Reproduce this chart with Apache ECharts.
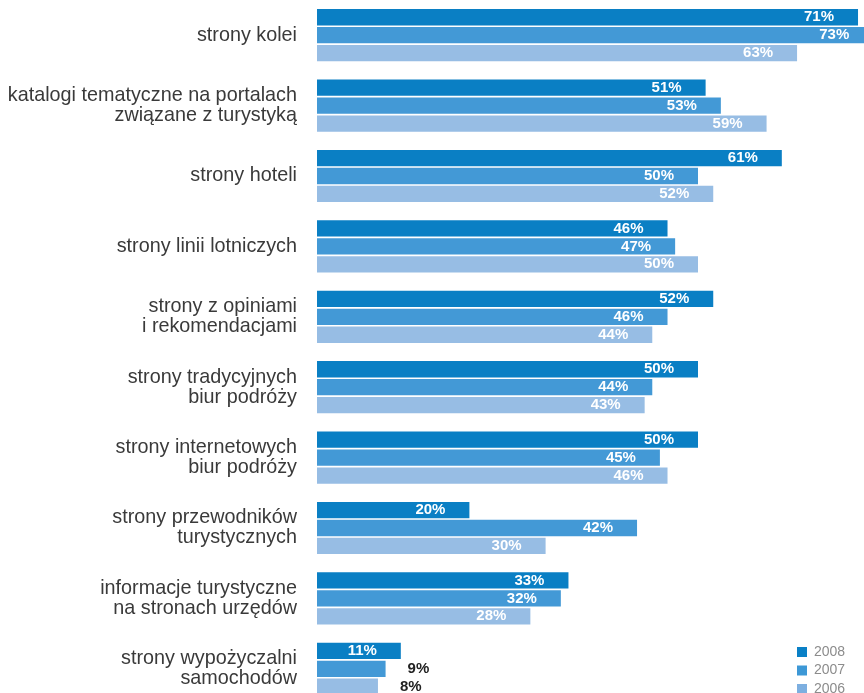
<!DOCTYPE html>
<html>
<head>
<meta charset="utf-8">
<script src="https://cdn.jsdelivr.net/npm/echarts@6/dist/echarts.min.js"></script>
<style>
  html, body { margin: 0; padding: 0; background: #fff; }
  #chart { width: 864px; height: 693px; }
</style>
</head>
<body>
<div id="chart"></div>
<script>
// Źródła informacji o podróżach – odsetek wskazań w latach 2008, 2007, 2006
const categories = [
  'strony kolei',
  'katalogi tematyczne na portalach\nzwiązane z turystyką',
  'strony hoteli',
  'strony linii lotniczych',
  'strony z opiniami\ni rekomendacjami',
  'strony tradycyjnych\nbiur podróży',
  'strony internetowych\nbiur podróży',
  'strony przewodników\nturystycznych',
  'informacje turystyczne\nna stronach urzędów',
  'strony wypożyczalni\nsamochodów'
];
const years = ['2008', '2007', '2006'];
const values2008 = [71, 51, 61, 46, 52, 50, 50, 20, 33, 11];
const values2007 = [73, 53, 50, 47, 46, 44, 45, 42, 32, 9];
const values2006 = [63, 59, 52, 50, 44, 43, 46, 30, 28, 8];

const barColors = ['#0a7fc4', '#4399d6', '#97bde4'];
const legendColors = ['#0a80c6', '#3d98d6', '#7dafe0'];
const labelFont = 'Liberation Sans, Arial, sans-serif';

// values too short to hold a label get it printed just past the bar end
function toItems(values) {
  return values.map(function (v) {
    if (v < 10) {
      return {
        value: v,
        label: { position: 'right', distance: 22, color: '#222222' }
      };
    }
    return v;
  });
}

const seriesValues = [values2008, values2007, values2006];

const chart = echarts.init(document.getElementById('chart'), null, { renderer: 'canvas' });

chart.setOption({
  animation: false,
  backgroundColor: '#ffffff',
  grid: {
    left: 317, top: 0, width: 609.6, height: 704,
    containLabel: false,
    outerBoundsMode: 'none'
  },
  xAxis: {
    type: 'value',
    min: 0,
    max: 80,
    show: false
  },
  yAxis: {
    type: 'category',
    data: categories,
    inverse: true,
    axisLine: { show: false },
    axisTick: { show: false },
    splitLine: { show: false },
    axisLabel: {
      margin: 20,
      fontSize: 19.8,
      lineHeight: 20,
      padding: [3, 0, 0, 0],
      color: '#3a3a3a',
      fontFamily: labelFont,
      align: 'right'
    }
  },
  legend: {
    orient: 'vertical',
    left: 797,
    top: 645,
    width: 70,
    height: 70,
    padding: 0,
    itemWidth: 10,
    itemHeight: 10,
    itemGap: 4.5,
    icon: 'rect',
    data: years.map(function (y, i) {
      return { name: y, itemStyle: { color: legendColors[i] } };
    }),
    textStyle: {
      fontSize: 14,
      color: '#8c8c8c',
      fontFamily: labelFont,
      padding: [0, 0, 0, 2]
    }
  },
  series: years.map(function (y, i) {
    return {
      name: y,
      type: 'bar',
      barWidth: 16.3,
      barGap: '10%',
      clip: false,
      itemStyle: { color: barColors[i] },
      label: {
        show: true,
        position: 'insideRight',
        distance: 24,
        formatter: '{c}%',
        color: '#ffffff',
        fontSize: 15,
        fontWeight: 'bold',
        fontFamily: labelFont
      },
      data: toItems(seriesValues[i])
    };
  })
});
</script>
</body>
</html>
